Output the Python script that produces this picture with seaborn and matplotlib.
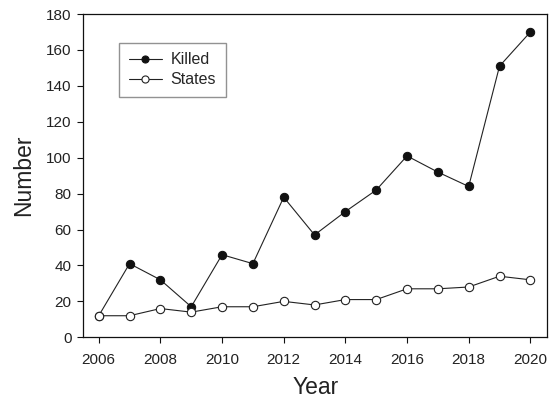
import numpy as np
import pandas as pd
import matplotlib
matplotlib.use("Agg")
import matplotlib.pyplot as plt
import seaborn as sns

sns.set_style("ticks")
plt.rcParams['font.family'] = ['Liberation Sans', 'DejaVu Sans']

# 資料: 每年的死亡人數與州數
years = [2006, 2007, 2008, 2009, 2010, 2011, 2012, 2013,
         2014, 2015, 2016, 2017, 2018, 2019, 2020]
killed = [12, 41, 32, 17, 46, 41, 78, 57, 70, 82, 101, 92, 84, 151, 170]
states = [12, 12, 16, 14, 17, 17, 20, 18, 21, 21, 27, 27, 28, 34, 32]
xticks = [2006, 2008, 2010, 2012, 2014, 2016, 2018, 2020]
yticks = [0, 20, 40, 60, 80, 100, 120, 140, 160, 180]

fig = plt.figure(figsize=(5.57, 4.01), dpi=100)
ax = fig.add_axes([0.1496, 0.1589, 0.833, 0.806])

sns.lineplot(x=years, y=killed, ax=ax, color='#222222', lw=0.8,
             marker='o', markersize=6, markerfacecolor='#111111',
             markeredgecolor='#111111', label='Killed')
sns.lineplot(x=years, y=states, ax=ax, color='#222222', lw=0.8,
             marker='o', markersize=6, markerfacecolor='white',
             markeredgecolor='#222222', markeredgewidth=0.8, label='States')

ax.set_xlim(2005.5, 2020.55)
ax.set_ylim(0, 180)
ax.set_xticks(xticks)
ax.set_yticks(yticks)
ax.tick_params(axis='both', labelsize=11, length=4, width=0.8,
               colors='#111111', labelcolor='#222222')
ax.tick_params(axis='x', pad=7)
ax.tick_params(axis='y', pad=4.5)
for s in ax.spines.values():
    s.set_linewidth(0.9)
    s.set_color('#111111')

# x 軸標題靠近底邊, 但不要被切掉
ax.set_xlabel('Year', fontsize=16.5, color='#222222', labelpad=7)
ax.set_ylabel('Number', fontsize=16.5, color='#222222', labelpad=8)

# 圖例放在左上角, 灰色細框
leg = ax.legend(loc='upper left', bbox_to_anchor=(0.0776, 0.911),
                borderaxespad=0, fontsize=11.5, frameon=True, fancybox=False,
                handlelength=2.05, handletextpad=0.55, borderpad=0.6,
                labelspacing=0.3, markerscale=0.85)
leg.get_frame().set_edgecolor('#777777')
leg.get_frame().set_linewidth(1.0)

fig.savefig('out.png', dpi=100)
